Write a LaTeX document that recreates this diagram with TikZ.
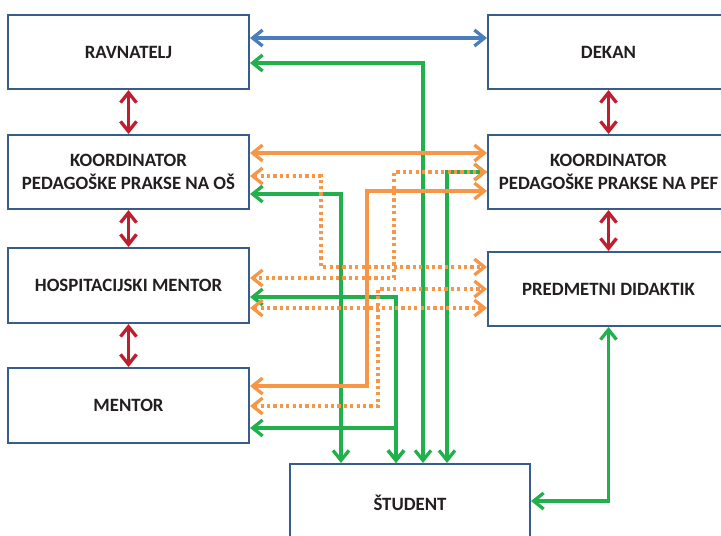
\documentclass[tikz,border=0pt]{standalone}
\usepackage{fontspec}
\setmainfont{Carlito}
\usetikzlibrary{arrows.meta}
\definecolor{boxline}{RGB}{56,93,138}
\definecolor{txt}{RGB}{35,31,32}
\definecolor{lnblue}{RGB}{74,126,187}
\definecolor{lngreen}{RGB}{34,176,76}
\definecolor{lnorange}{RGB}{247,150,70}
\definecolor{lnred}{RGB}{190,30,45}
\tikzset{
  unitbox/.style={draw=boxline, line width=2pt, fill=white, minimum width=241pt,
    minimum height=74pt, inner sep=0pt, align=center, text=txt,
    font=\bfseries\fontsize{18.8}{23.5}\selectfont},
  link/.style={line width=3.3pt, line join=miter,
    {Straight Barb[length=10pt,width=16pt]}-{Straight Barb[length=10pt,width=16pt]}},
  blueln/.style={link, draw=lnblue},
  greenln/.style={link, draw=lngreen},
  orangeln/.style={link, draw=lnorange},
  dottedln/.style={link, draw=lnorange, dash pattern=on 3.2pt off 3.2pt},
  redln/.style={link, draw=lnred},
}
\begin{document}
\begin{tikzpicture}[x=1pt, y=-1pt]
\useasboundingbox (0,0) rectangle (721,536);
\clip (0,0) rectangle (721,536);

% school side
\node[unitbox] (ravn) at (128.5,52) {RAVNATELJ};
\node[unitbox] (osk)  at (128.5,172) {KOORDINATOR\\PEDAGOŠKE PRAKSE NA OŠ};
\node[unitbox, minimum height=75pt] (hosp) at (128.5,285.5) {HOSPITACIJSKI MENTOR};
\node[unitbox, minimum height=75pt] (ment) at (128.5,405.5) {MENTOR};

% faculty side
\node[unitbox] (dekan) at (608.5,52) {DEKAN};
\node[unitbox] (pef)   at (608.5,172) {KOORDINATOR\\PEDAGOŠKE PRAKSE NA PEF};
\node[unitbox] (pd)    at (608.5,289) {PREDMETNI DIDAKTIK};

% student
\node[unitbox, minimum width=240pt, minimum height=78pt] (stud) at (410,503) {ŠTUDENT};

% vertical hierarchy links
\draw[redln] (ravn.south) -- (osk.north);
\draw[redln] (osk.south) -- (hosp.north);
\draw[redln] (hosp.south) -- (ment.north);
\draw[redln] (dekan.south) -- (pef.north);
\draw[redln] (pef.south) -- (pd.north);

% green links to the student
\draw[greenln] (ravn.east |- 0,63) -| (423,0 |- stud.north);
\draw[greenln] (osk.east |- 0,194) -| (341,0 |- stud.north);
\draw[greenln] (pef.west |- 0,172) -| (447,0 |- stud.north);
\draw[greenln] (hosp.east |- 0,297) -| (396,0 |- stud.north);
\draw[greenln] (ment.east |- 0,428) -| (396,0 |- stud.north);
\draw[greenln] (608.5,0 |- pd.south) |- (stud.east |- 0,501);

% head-level link
\draw[blueln] (ravn.east |- 0,38) -- (dekan.west |- 0,38);

% orange links between school and faculty
\draw[orangeln] (osk.east |- 0,153) -- (pef.west |- 0,153);
\draw[orangeln] (pef.west |- 0,191) -| (367,386) -- (ment.east |- 0,386);
\draw[dottedln] (osk.east |- 0,176) -| (321,267) -- (pd.west |- 0,267);
\draw[dottedln] (pef.west |- 0,172) -| (394,278) -- (hosp.east |- 0,278);
\draw[dottedln] (ment.east |- 0,406) -| (378,289) -- (pd.west |- 0,289);
\draw[dottedln] (hosp.east |- 0,308) -- (pd.west |- 0,308);
\end{tikzpicture}
\end{document}
